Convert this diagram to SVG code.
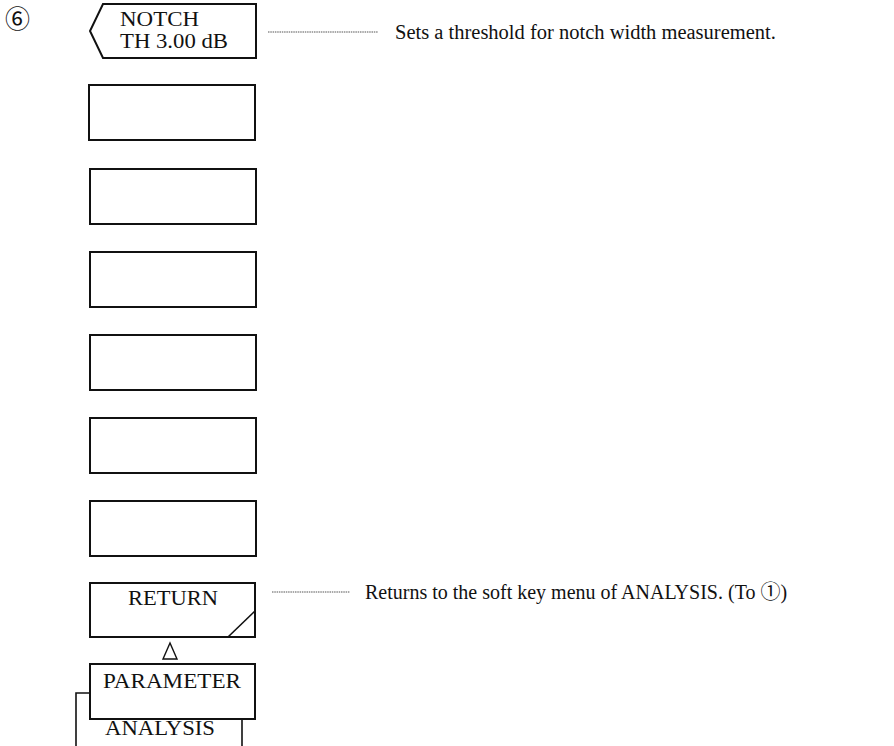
<svg xmlns="http://www.w3.org/2000/svg" width="894" height="746" viewBox="0 0 894 746">
<style>
.box{fill:#fff;stroke:#111;stroke-width:2}
.ln{fill:none;stroke:#111;stroke-width:1.6}
.dot{fill:none;stroke:#555;stroke-width:1.2;stroke-dasharray:1.5 0.8}
text{font-family:"Liberation Serif","Noto Sans CJK JP",serif;font-size:20.5px;fill:#111}
.k{font-size:20px}
.c{text-anchor:middle}
</style>
<rect width="894" height="746" fill="#fff"/>
<text x="5" y="28" style="font-size:25px">⑥</text>
<g id="notch">
<path class="box" d="M103,4 H256 V58 H103 L90,31 Z"/>
<text class="k" x="120" y="26" textLength="79" lengthAdjust="spacingAndGlyphs">NOTCH</text>
<text class="k" x="120" y="48" textLength="108" lengthAdjust="spacingAndGlyphs">TH 3.00 dB</text>
</g>
<g id="key2"><rect class="box" x="89" y="85" width="166" height="55"/></g>
<g id="key3"><rect class="box" x="90" y="169" width="166" height="55"/></g>
<g id="key4"><rect class="box" x="90" y="252" width="166" height="55"/></g>
<g id="key5"><rect class="box" x="90" y="335" width="166" height="55"/></g>
<g id="key6"><rect class="box" x="90" y="418" width="166" height="55"/></g>
<g id="key7"><rect class="box" x="90" y="501" width="166" height="55"/></g>
<g id="return">
<rect class="box" x="90" y="583" width="165" height="54"/>
<line class="ln" x1="228" y1="637" x2="255" y2="611"/>
<text class="k" x="128" y="605" textLength="90" lengthAdjust="spacingAndGlyphs">RETURN</text>
</g>
<g id="analysis">
<path class="ln" d="M90,693 H76 V746 M242,719 V746"/>
<text class="k" x="105" y="735" textLength="110" lengthAdjust="spacingAndGlyphs">ANALYSIS</text>
</g>
<g id="parameter">
<rect class="box" x="90" y="664" width="165" height="55"/>
<text class="k" x="103" y="688" textLength="138" lengthAdjust="spacingAndGlyphs">PARAMETER</text>
</g>
<g id="connectors">
<path d="M170,643 L163,659 H177 Z" fill="none" stroke="#111" stroke-width="1.4"/>
<line class="dot" x1="268" y1="32" x2="378" y2="32"/>
<line class="dot" x1="272" y1="592" x2="350" y2="592"/>
</g>
<text x="395" y="39">Sets a threshold for notch width measurement.</text>
<text x="365" y="599" style="font-size:20px">Returns to the soft key menu of ANALYSIS. (To <tspan style="font-size:20px">①</tspan>)</text>
</svg>
